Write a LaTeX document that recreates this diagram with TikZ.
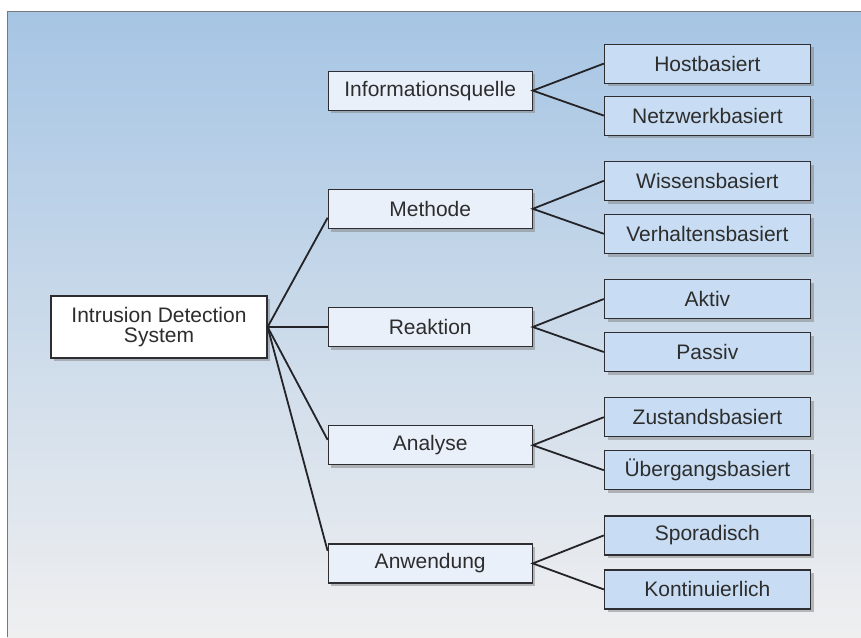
\documentclass[tikz,border=0pt]{standalone}
\usepackage{fontspec}
\setsansfont{Liberation Sans}
\RequirePackage{xcolor}
\tikzset{every picture/.style={/utils/exec={\sffamily}}}
\usetikzlibrary{positioning}
\usetikzlibrary{shadows}

\definecolor{bgtop}{RGB}{166,197,228}
\definecolor{bgmid}{RGB}{206,219,234}
\definecolor{bgbot}{RGB}{239,239,240}
\definecolor{framegray}{RGB}{120,120,120}
\definecolor{boxline}{RGB}{45,45,50}
\definecolor{textgray}{RGB}{45,45,45}
\definecolor{linegray}{RGB}{35,35,40}
\definecolor{midblue}{RGB}{234,240,250}
\definecolor{leafblue}{RGB}{200,221,243}

\begin{document}
\begin{tikzpicture}[x=0.5pt, y=-0.5pt, node distance=39pt,
  box/.style={draw=boxline, line width=0.6pt, text=textgray, inner sep=0pt,
    font=\fontsize{10.5}{10}\selectfont, minimum height=19.5pt,
    drop shadow={shadow xshift=1.6pt, shadow yshift=-1.6pt, fill=black!50}},
  rootbox/.style={box, fill=white, minimum width=108pt, minimum height=31pt, align=center},
  midbox/.style={box, fill=midblue, minimum width=102pt},
  leafbox/.style={box, fill=leafblue, minimum width=103pt},
  branch/.style={draw=linegray, line width=0.9pt}]

  \useasboundingbox (0,0) rectangle (861,637);
  \shade[top color=bgtop, middle color=bgmid, bottom color=bgbot] (7,11) rectangle (861,637);
  \draw[framegray, line width=0.5pt] (7,637) -- (7,11) -- (861,11);

  \node [rootbox] (ids) at (159,327) {Intrusion Detection\\System};

  \node [midbox, right=30pt of ids] (reaktion) {Reaktion};
  \node [midbox, above=of reaktion] (methode) {Methode};
  \node [midbox, above=of methode] (quelle) {Informationsquelle};
  \node [midbox, below=of reaktion] (analyse) {Analyse};
  \node [midbox, below=of analyse] (anwendung) {Anwendung};

  \node [leafbox, right=35.5pt of quelle, yshift=13.5pt] (host) {Hostbasiert};
  \node [leafbox, right=35.5pt of quelle, yshift=-12.5pt] (netz) {Netzwerkbasiert};
  \node [leafbox, right=35.5pt of methode, yshift=14pt] (wissen) {Wissensbasiert};
  \node [leafbox, right=35.5pt of methode, yshift=-12.5pt] (verhalten) {Verhaltensbasiert};
  \node [leafbox, right=35.5pt of reaktion, yshift=14pt] (aktiv) {Aktiv};
  \node [leafbox, right=35.5pt of reaktion, yshift=-12.5pt] (passiv) {Passiv};
  \node [leafbox, right=35.5pt of analyse, yshift=14pt] (zustand) {Zustandsbasiert};
  \node [leafbox, right=35.5pt of analyse, yshift=-12.5pt] (uebergang) {Übergangsbasiert};
  \node [leafbox, right=35.5pt of anwendung, yshift=14pt] (sporadisch) {Sporadisch};
  \node [leafbox, right=35.5pt of anwendung, yshift=-13pt] (kontinuierlich) {Kontinuierlich};

  \draw [branch] (ids.east) -- (methode.185);
  \draw [branch] (ids.east) -- (reaktion.west);
  \draw [branch] (ids.east) -- (analyse.177);
  \draw [branch] (ids.east) -- (anwendung.173);

  \draw [branch] (host.west) -- (quelle.east) -- (netz.west);
  \draw [branch] (wissen.west) -- (methode.east) -- (verhalten.west);
  \draw [branch] (aktiv.west) -- (reaktion.east) -- (passiv.west);
  \draw [branch] (zustand.west) -- (analyse.east) -- (uebergang.west);
  \draw [branch] (sporadisch.west) -- (anwendung.east) -- (kontinuierlich.west);

\end{tikzpicture}
\end{document}
